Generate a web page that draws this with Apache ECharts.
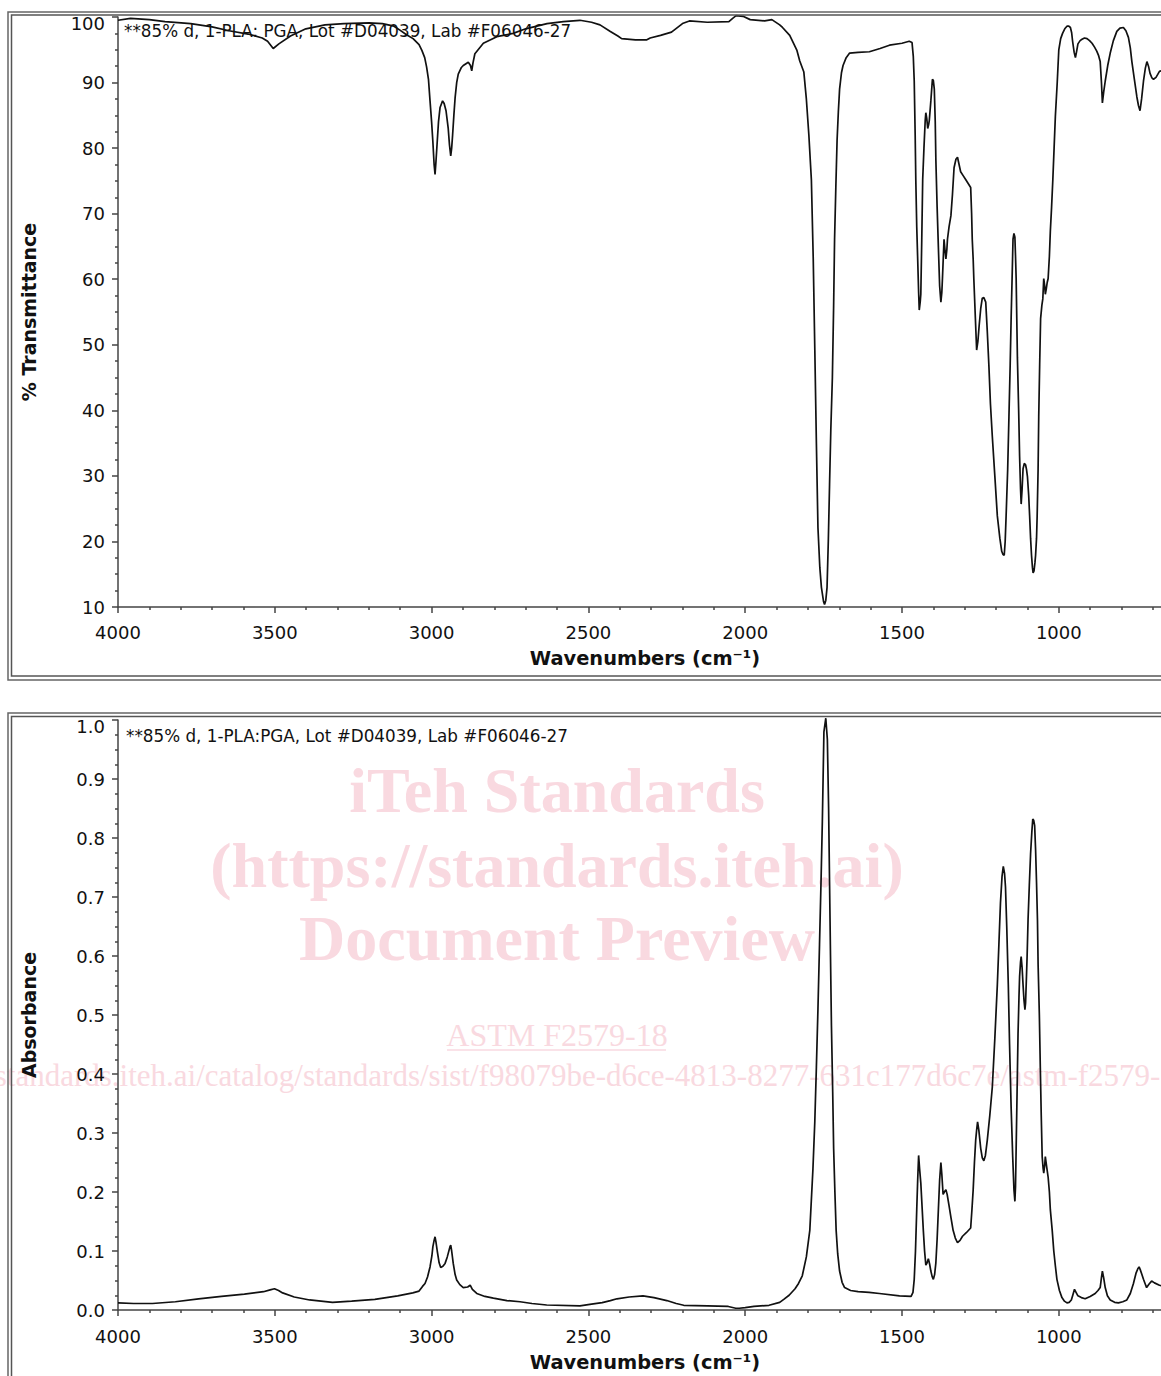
<!DOCTYPE html>
<html>
<head>
<meta charset="utf-8">
<script src="https://cdn.jsdelivr.net/npm/echarts@6/dist/echarts.min.js"></script>
<style>
html,body{margin:0;padding:0;background:#fff;}
#c{width:1161px;height:1376px;}
</style>
</head>
<body>
<div id="c"></div>
<script>
// ---------- DATA ----------
var sampleLabelTop = '**85% d, 1-PLA: PGA, Lot #D04039, Lab #F06046-27';
var sampleLabelBottom = '**85% d, 1-PLA:PGA, Lot #D04039, Lab #F06046-27';
var xAxisTitle = 'Wavenumbers (cm\u207B\u00B9)';
var transAxisTitle = '% Transmittance';
var absAxisTitle = 'Absorbance';

var transWn = [4000,3960,3900,3850,3768,3700,3646,3585,3540,3523,3505,3487,3450,3401,3340,3279,3200,3157,3120,3101,3080,3059,3040,3031,3022,3016,3010,3005,3000,2996,2992,2989,2986,2982,2978,2973,2965,2960,2954,2947,2943,2939,2936,2933,2929,2925,2920,2915,2905,2899,2883,2876,2872,2868,2862,2835,2792,2740,2700,2632,2580,2527,2490,2463,2430,2406,2394,2350,2315,2303,2270,2235,2200,2178,2121,2052,2040,2029,2007,1984,1938,1915,1890,1881,1858,1835,1826,1813,1805,1797,1789,1783,1778,1773,1768,1762,1757,1750,1747,1743,1739,1735,1731,1727,1722,1718,1715,1711,1707,1703,1699,1693,1688,1678,1667,1640,1604,1570,1540,1500,1477,1468,1464,1461,1458,1456,1453,1450,1447,1445,1442,1440,1437,1434,1430,1426,1424,1421,1418,1415,1413,1408,1403,1400,1397,1394,1392,1388,1384,1380,1376,1373,1371,1366,1363,1360,1357,1355,1350,1344,1339,1334,1328,1323,1318,1313,1305,1297,1289,1281,1278,1276,1273,1271,1266,1262,1258,1254,1249,1244,1239,1233,1228,1223,1218,1212,1204,1196,1188,1182,1178,1174,1171,1168,1163,1159,1155,1152,1149,1146,1143,1140,1138,1136,1134,1132,1128,1125,1122,1120,1117,1114,1110,1106,1103,1100,1096,1093,1090,1087,1084,1082,1079,1076,1074,1071,1069,1066,1064,1061,1058,1054,1051,1048,1045,1043,1040,1037,1034,1030,1027,1023,1019,1015,1011,1005,1000,994,988,981,974,968,963,959,956,951,947,943,939,932,926,918,910,902,894,886,879,873,868,864,861,857,852,844,836,826,815,805,794,786,778,772,767,759,751,746,741,736,730,724,719,714,709,703,698,690,679,660];
var transVal = [99.5,99.8,99.6,99.3,99.0,98.5,97.9,97.4,96.8,96.3,95.2,95.9,97.1,98.2,98.8,99.0,99.1,99.0,98.6,98.0,97.3,96.7,95.8,94.9,93.8,92.4,90.5,87.2,84,81,77.5,76,78,81,84,86.2,87.2,86.8,85.7,83,80.5,78.8,80,82,85,87.7,90,91.3,92.3,92.6,93.1,92.6,91.8,93,94.4,96,97,97.5,98.2,99,99.3,99.5,99.2,98.8,97.8,97.1,96.7,96.5,96.5,96.8,97.2,97.7,99.0,99.4,99.2,99.3,99.8,100.2,100.1,99.6,99.4,99.6,98.8,98.4,97.2,94.9,93.3,91.6,87.5,82,75.2,63,49.2,35,22.1,16,13,10.8,10.4,11,13,20,28.7,37,45,56,66.1,74,81.2,85.5,89,91.5,92.6,93.8,94.5,94.6,94.7,95.2,95.7,96.0,96.3,96.1,94,90.2,82,75.2,68,63.1,58,55.3,56.5,57.7,66,75.2,80,84.2,85.4,84.5,83,83.6,84.2,87.2,90.5,90.3,89,84,78.2,71,64.9,59,56.5,58,60.1,66.1,64.5,63.1,64.5,66.1,68,69.7,73,77,78.3,78.6,77.5,76.4,75.8,75.2,74.6,74,70,66.1,63,60.1,54,49.2,50.5,52.9,55.5,57.1,57.2,56.5,52,46.9,41,36,30,23.9,20.5,18.5,18,17.9,20,23.9,31,39,47,54,60,66.1,67,66.4,63.5,60.1,54,48,40,33,28,25.7,28,31.1,31.9,31.7,31,29.9,27,23.9,20.5,17.9,16,15.2,15.5,16.8,17.9,20.5,23.9,31,39,47,54,56,57,60.1,59,57.7,58.5,59.5,60.1,63.5,67.3,71,75.2,80,84.8,90,95,96.7,97.5,98.2,98.6,98.6,98.4,97.6,96.3,94.6,93.8,94.8,95.9,96.4,96.6,96.8,96.7,96.4,96,95.4,94.8,94.1,93.2,90,86.9,88.5,90.2,92.6,94.5,96.4,97.8,98.3,98.4,97.9,96.9,95.3,93.2,90.5,87.8,86.5,85.7,87.5,90.2,92.2,93.2,92.5,91.4,90.7,90.5,90.8,91.7,92.0];

var absWn = [4000,3950,3890,3817,3743,3670,3597,3536,3515,3501,3488,3475,3438,3389,3316,3255,3181,3108,3060,3040,3029,3021,3013,3005,2999,2996,2992,2989,2986,2982,2976,2971,2964,2957,2950,2947,2941,2939,2936,2931,2925,2920,2910,2899,2885,2877,2870,2856,2830,2803,2760,2718,2680,2633,2527,2490,2456,2430,2409,2370,2326,2291,2250,2220,2196,2120,2054,2030,2019,2000,1972,1924,1890,1877,1860,1841,1830,1818,1805,1794,1784,1778,1773,1768,1763,1758,1754,1749,1743,1738,1734,1731,1728,1725,1721,1718,1714,1710,1705,1699,1691,1683,1664,1640,1605,1572,1508,1471,1465,1461,1457,1453,1450,1447,1444,1440,1436,1432,1428,1424,1420,1416,1412,1408,1404,1400,1396,1392,1388,1384,1380,1376,1373,1369,1365,1360,1356,1350,1344,1337,1330,1323,1315,1307,1295,1281,1277,1273,1269,1265,1262,1259,1255,1249,1244,1239,1234,1228,1220,1212,1204,1196,1191,1186,1181,1177,1173,1170,1166,1161,1157,1152,1147,1143,1140,1138,1136,1133,1130,1127,1125,1122,1120,1117,1114,1111,1108,1106,1104,1101,1098,1094,1090,1086,1083,1080,1077,1074,1071,1068,1066,1062,1059,1056,1053,1050,1048,1045,1043,1038,1034,1030,1027,1021,1016,1011,1006,998,990,982,974,967,960,955,950,945,939,928,916,900,884,875,868,864,861,857,852,845,836,822,810,796,783,772,762,754,748,744,740,735,730,725,720,712,704,695,679,660];
var absVal = [0.012,0.011,0.011,0.014,0.019,0.023,0.027,0.031,0.034,0.036,0.033,0.029,0.022,0.017,0.013,0.015,0.018,0.024,0.029,0.032,0.04,0.045,0.056,0.073,0.092,0.107,0.118,0.124,0.115,0.10,0.08,0.072,0.074,0.079,0.09,0.096,0.108,0.11,0.1,0.079,0.06,0.051,0.043,0.038,0.039,0.042,0.035,0.028,0.023,0.02,0.016,0.014,0.011,0.0085,0.007,0.01,0.0126,0.016,0.019,0.022,0.024,0.021,0.016,0.011,0.008,0.007,0.006,0.003,0.003,0.004,0.006,0.008,0.013,0.018,0.025,0.036,0.045,0.058,0.09,0.135,0.239,0.32,0.412,0.51,0.62,0.73,0.828,0.98,1.003,0.967,0.85,0.724,0.6,0.482,0.37,0.274,0.2,0.135,0.095,0.066,0.047,0.038,0.033,0.031,0.030,0.028,0.024,0.023,0.03,0.052,0.1,0.17,0.22,0.262,0.24,0.215,0.175,0.135,0.1,0.076,0.08,0.087,0.078,0.066,0.057,0.052,0.06,0.08,0.12,0.17,0.22,0.25,0.23,0.196,0.2,0.204,0.196,0.177,0.157,0.135,0.122,0.114,0.118,0.125,0.131,0.139,0.17,0.204,0.25,0.288,0.305,0.319,0.305,0.274,0.258,0.253,0.262,0.288,0.33,0.378,0.46,0.551,0.62,0.69,0.735,0.752,0.74,0.717,0.65,0.551,0.45,0.343,0.26,0.204,0.184,0.21,0.274,0.37,0.468,0.53,0.565,0.59,0.599,0.58,0.551,0.525,0.509,0.52,0.551,0.6,0.662,0.72,0.773,0.81,0.832,0.83,0.821,0.78,0.724,0.66,0.586,0.5,0.412,0.33,0.26,0.24,0.232,0.245,0.26,0.24,0.225,0.2,0.17,0.135,0.1,0.075,0.052,0.033,0.021,0.015,0.012,0.013,0.017,0.026,0.035,0.03,0.024,0.021,0.019,0.023,0.028,0.033,0.038,0.055,0.066,0.055,0.038,0.024,0.017,0.013,0.012,0.014,0.017,0.028,0.045,0.062,0.07,0.073,0.068,0.06,0.052,0.045,0.038,0.044,0.049,0.046,0.042,0.04];

var watermarkLines = ['iTeh Standards', '(https://standards.iteh.ai)', 'Document Preview'];
var watermarkDoc = 'ASTM F2579-18';
var watermarkUrl = 'https://standards.iteh.ai/catalog/standards/sist/f98079be-d6ce-4813-8277-631c177d6c7e/astm-f2579-18';

// ---------- CHART ----------
function pairs(xs, ys){ return xs.map(function(x,i){ return [x, ys[i]]; }); }

var FONT = 'DejaVu Sans';
var AX = '#444';
var chart = echarts.init(document.getElementById('c'), null, {renderer:'svg', width:1161, height:1376});

function xAx(gi, margin){
  return {
    type:'value', gridIndex:gi, min:500, max:4000, interval:500, inverse:true,
    axisLine:{show:true, onZero:false, lineStyle:{color:AX, width:1.5}},
    axisTick:{show:true, length:6, lineStyle:{color:AX, width:1.5}},
    minorTick:{show:true, splitNumber:5, length:3, lineStyle:{color:AX, width:1.5}},
    axisLabel:{color:'#111', fontSize:18, fontFamily:FONT, margin:margin,
      showMinLabel:false, showMaxLabel:true,
      formatter:function(v){ return String(v); }},
    splitLine:{show:false}
  };
}
function yAx(gi, mn, mx, iv, name, fmt){
  return {
    type:'value', gridIndex:gi, min:mn, max:mx, interval:iv,
    name:name, nameLocation:'middle', nameGap:80,
    nameTextStyle:{color:'#111', fontSize:19, fontWeight:'bold', fontFamily:FONT},
    axisLine:{show:true, onZero:false, lineStyle:{color:AX, width:1.5}},
    axisTick:{show:true, length:6, lineStyle:{color:AX, width:1.5}},
    minorTick:{show:true, splitNumber:4, length:3, lineStyle:{color:AX, width:1.5}},
    axisLabel:{color:'#111', fontSize:18, fontFamily:FONT, margin:13, formatter:fmt,
      rich:{top:{fontSize:18, fontFamily:FONT, color:'#111', padding:[12,0,0,0]}}},
    splitLine:{show:false}
  };
}

var wmColor = '#f9d9e0';
var graphics = [
  // frames
  {type:'rect', shape:{x:8, y:12, width:1200, height:668}, style:{fill:null, stroke:'#666', lineWidth:1.5}, z:10},
  {type:'rect', shape:{x:11.5, y:15, width:1200, height:661}, style:{fill:null, stroke:'#555', lineWidth:1.5}, z:10},
  {type:'rect', shape:{x:8, y:713, width:1200, height:700}, style:{fill:null, stroke:'#666', lineWidth:1.5}, z:10},
  {type:'rect', shape:{x:11.5, y:716.5, width:1200, height:700}, style:{fill:null, stroke:'#555', lineWidth:1.5}, z:10},
  // sample labels
  {type:'text', style:{text:sampleLabelTop, x:124, y:31, fill:'#111', font:'16.8px "DejaVu Sans"', textAlign:'left', textVerticalAlign:'middle'}, z:5},
  {type:'text', style:{text:sampleLabelBottom, x:126, y:736, fill:'#111', font:'16.8px "DejaVu Sans"', textAlign:'left', textVerticalAlign:'middle'}, z:5},
  // x axis titles
  {type:'text', style:{text:xAxisTitle, x:645, y:658, fill:'#111', font:'bold 19.4px "DejaVu Sans"', textAlign:'center', textVerticalAlign:'middle'}, z:5},
  {type:'text', style:{text:xAxisTitle, x:645, y:1362, fill:'#111', font:'bold 19.4px "DejaVu Sans"', textAlign:'center', textVerticalAlign:'middle'}, z:5},
  // watermark
  {type:'text', style:{text:watermarkLines[0], x:557, y:790, fill:wmColor, font:'bold 64px "Liberation Serif"', textAlign:'center', textVerticalAlign:'middle'}, z:-1},
  {type:'text', style:{text:watermarkLines[1], x:557, y:865, fill:wmColor, font:'bold 64px "Liberation Serif"', textAlign:'center', textVerticalAlign:'middle'}, z:-1},
  {type:'text', style:{text:watermarkLines[2], x:557, y:938, fill:wmColor, font:'bold 64px "Liberation Serif"', textAlign:'center', textVerticalAlign:'middle'}, z:-1},
  {type:'text', style:{text:watermarkDoc, x:557, y:1035, fill:wmColor, font:'32px "Liberation Serif"', textAlign:'center', textVerticalAlign:'middle'}, z:-1},
  {type:'line', shape:{x1:447, y1:1050, x2:666, y2:1050}, style:{stroke:wmColor, lineWidth:1.5}, z:-1},
  {type:'text', style:{text:watermarkUrl, x:550, y:1075, fill:wmColor, font:'31px "Liberation Serif"', textAlign:'center', textVerticalAlign:'middle'}, z:-1}
];

var option = {
  backgroundColor:'#fff',
  animation:false,
  grid:[
    {left:118, top:17, width:1097.6, height:590, outerBoundsMode:'none', containLabel:false},
    {left:118, top:720, width:1097.6, height:590, outerBoundsMode:'none', containLabel:false}
  ],
  xAxis:[xAx(0,16), xAx(1,17)],
  yAxis:[
    yAx(0, 10, 100, 10, transAxisTitle, function(v){ var s = String(Math.round(v)); return v >= 100 ? '{top|' + s + '}' : s; }),
    yAx(1, 0, 1, 0.1, absAxisTitle, function(v){ var s = v.toFixed(1); return v >= 1 ? '{top|' + s + '}' : s; })
  ],
  graphic: graphics,
  series:[
    {type:'line', xAxisIndex:0, yAxisIndex:0, data:pairs(transWn, transVal), showSymbol:false, clip:false,
     lineStyle:{color:'#111', width:1.7}, z:3},
    {type:'line', xAxisIndex:1, yAxisIndex:1, data:pairs(absWn, absVal), showSymbol:false, clip:false,
     lineStyle:{color:'#111', width:1.7}, z:3}
  ]
};
chart.setOption(option);
</script>
</body>
</html>
